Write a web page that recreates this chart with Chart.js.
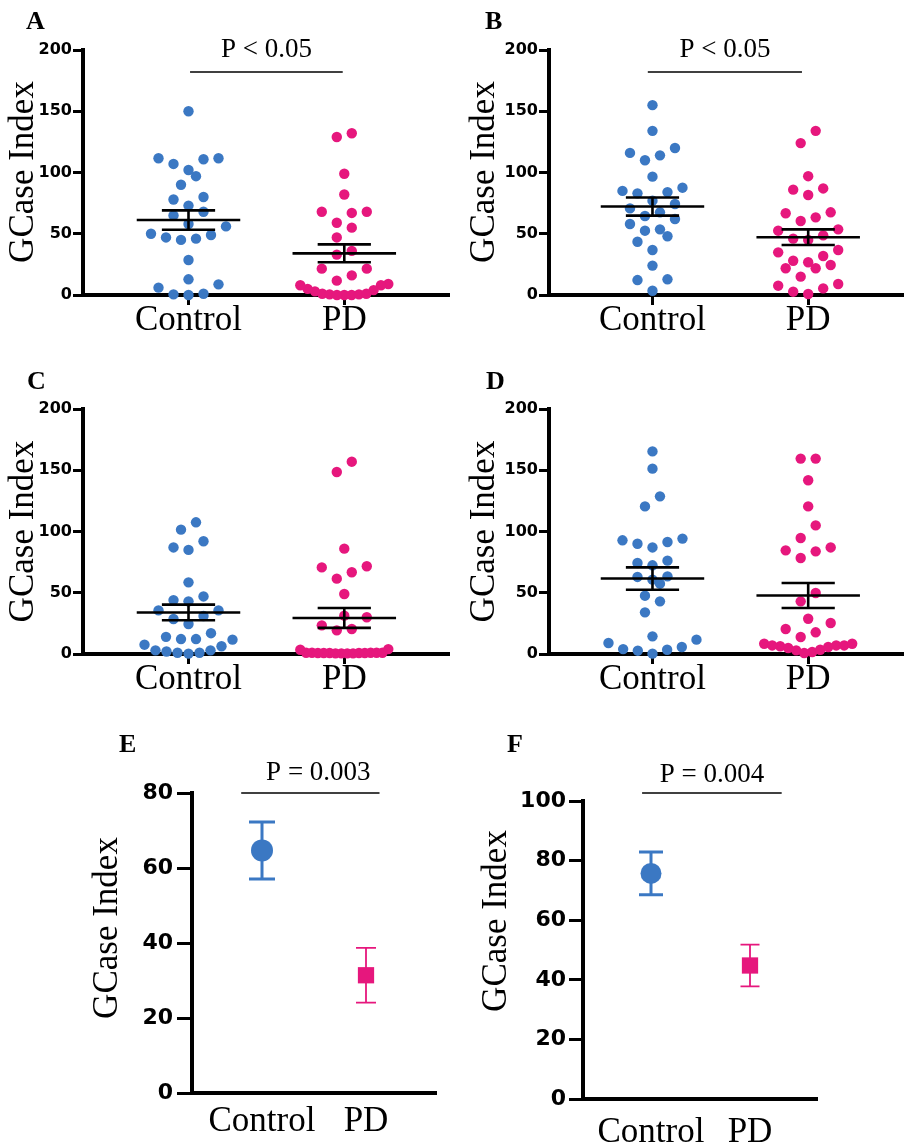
<!DOCTYPE html>
<html>
<head>
<meta charset="utf-8">
<script src="https://cdn.jsdelivr.net/npm/chart.js@4.4.1/dist/chart.umd.min.js"></script>
<style>
  body { margin: 0; background: #fff; }
  #fig { position: relative; width: 908px; height: 1144px; overflow: hidden; background: #fff; }
  #fig canvas { position: absolute; }
</style>
</head>
<body>
<div id="fig"></div>
<script>
// Groups and labels
const categories = ['Control', 'PD'];
const yTitle = 'GCase Index';
const panelLetters = ['A', 'B', 'C', 'D', 'E', 'F'];
const pLabels = ['P < 0.05', 'P < 0.05', null, null, 'P = 0.003', 'P = 0.004'];

// Individual values (panels A-D)
const controlA = [150, 111.6, 110.8, 111.6, 107, 102, 97, 90, 78, 80, 73, 68, 65, 58, 56, 49, 46, 45, 47, 50, 28.6, 12.8, 8.7, 6, 1, 0, 0.5];
const pdA = [132, 129, 99, 82, 68, 67, 68, 59, 55, 47, 36, 33, 21.5, 21.5, 16, 11.7, 9, 8, 4, 1, 0.5, 0, 0, 0, 0.5, 1, 3, 5, 8];
const controlB = [155, 134, 120, 116, 114, 110, 96.6, 87.6, 84, 83, 85, 77, 74.3, 70.7, 67.5, 64.5, 62, 58, 53.6, 52.5, 48, 43.5, 36.7, 24, 12.8, 12.2, 3.5];
const pdB = [134, 124, 97, 86, 81.6, 87, 66.7, 60.4, 63.4, 67.5, 52.5, 53.6, 46, 45, 48.7, 34.8, 28, 31.8, 36.7, 24.5, 21.8, 21.8, 26.7, 15, 9, 5.4, 7.6, 2.7, 0.8];
const controlC = [107.5, 101.5, 92, 87, 85, 58.5, 47, 44, 43, 35.6, 35.6, 31, 28.6, 24.5, 17, 14, 11.7, 12.2, 12.2, 6.3, 7.6, 3, 3, 1, 0.3, 1, 2];
const pdC = [157, 148.6, 86, 71.6, 70.7, 66.7, 61.5, 49, 30, 31.3, 23.4, 20.4, 19.3, 4, 3.5, 1, 0.8, 0.5, 0.8, 1, 0.5, 0.8, 1, 0.5, 0.8, 1, 0.5, 0.8, 1];
const controlD = [165.4, 151.3, 128.7, 120.5, 94.2, 92.8, 91.4, 90, 87, 76.2, 74.3, 72.4, 63.4, 62.9, 60.7, 57.4, 47.6, 43, 34, 14.4, 11.7, 9, 5.7, 4, 3.5, 2.7, 0.3];
const pdD = [159.5, 159.5, 141.8, 120.5, 105, 94.7, 84.6, 83.8, 87, 78.4, 49.8, 43, 28.8, 25.3, 20.4, 17.7, 13.9, 8.4, 7, 6.3, 4.9, 3, 1.6, 0.8, 3.5, 5.7, 7, 7, 8.4];

// Mean and SEM per group [Control, PD]
const meanA = [61.2, 34.0], semA = [7.9, 7.3];
const meanB = [72.2, 47.2], semB = [7.4, 6.4];
const meanC = [33.9, 29.4], semC = [6.4, 8.1];
const meanD = [61.6, 47.8], semD = [9.1, 10.2];
const meanE = [64.7, 31.4], semE = [7.6, 7.3];
const meanF = [75.7, 44.8], semF = [7.2, 7.0];

const colors = ['#3b78c3', '#e6177d'];
const serif = '"Liberation Serif", "Times New Roman", serif';

// Layout of the six panels (canvas px)
const panels = [
  { kind: 'dots', left: 0, top: 0, w: 454, h: 340, area: [83, 50, 454, 295], cat: [190, 348], yMax: 200, yStep: 50,
    values: [controlA, pdA], mean: meanA, sem: semA, letterXY: [26, 29], titleXY: [24, 172], pX: [1.01, 1.99], pY: 182, pGap: 15, pDx: 0 },
  { kind: 'dots', left: 454, top: 0, w: 454, h: 340, area: [95, 50, 454, 295], cat: [200, 358], yMax: 200, yStep: 50,
    values: [controlB, pdB], mean: meanB, sem: semB, letterXY: [31, 29], titleXY: [30.5, 172], pX: [0.97, 1.96], pY: 182, pGap: 15, pDx: 0 },
  { kind: 'dots', left: 0, top: 360, w: 454, h: 340, area: [83, 49, 454, 294], cat: [190, 348], yMax: 200, yStep: 50,
    values: [controlC, pdC], mean: meanC, sem: semC, letterXY: [27, 29], titleXY: [24, 171.5] },
  { kind: 'dots', left: 454, top: 360, w: 454, h: 340, area: [95, 49, 454, 294], cat: [200, 358], yMax: 200, yStep: 50,
    values: [controlD, pdD], mean: meanD, sem: semD, letterXY: [32, 29], titleXY: [30.5, 171.5] },
  { kind: 'summary', left: 0, top: 720, w: 454, h: 424, area: [192, 73, 435, 373], cat: [262, 366], yMax: 80, yStep: 20,
    mean: meanE, sem: semE, letterXY: [119, 32], titleXY: [108, 208], pX: [0.8, 2.13], pY: 80, pGap: 12.7, pDx: 8,
    tickLen: 15, tickPad: 4, labelPad: 13, dotR: 11, capPx: [13, 10] },
  { kind: 'summary', left: 454, top: 720, w: 454, h: 424, area: [129, 81, 362, 379], cat: [197, 296], yMax: 100, yStep: 20,
    mean: meanF, sem: semF, letterXY: [53, 32], titleXY: [43, 201], pX: [0.91, 2.32], pY: 102.7, pGap: 11, pDx: 0,
    tickLen: 14, tickPad: 3, labelPad: 18, dotR: 10.5, capPx: [12, 9.5] }
];

const fig = document.getElementById('fig');

function makeCanvas(p) {
  const c = document.createElement('canvas');
  c.width = p.w;
  c.height = p.h;
  c.style.left = p.left + 'px';
  c.style.top = p.top + 'px';
  c.style.width = p.w + 'px';
  c.style.height = p.h + 'px';
  fig.appendChild(c);
  return c;
}

// I-beam segments (with gaps) for mean +/- SEM
function beam(x, m, s, half, cap) {
  const pts = [];
  if (half) pts.push({ x: x - half, y: m }, { x: x + half, y: m }, { x, y: null });
  pts.push({ x: x - cap, y: m + s }, { x: x + cap, y: m + s }, { x, y: null },
           { x: x - cap, y: m - s }, { x: x + cap, y: m - s }, { x, y: null },
           { x, y: m - s }, { x, y: m + s });
  return pts;
}

// Prism-like column scatter: rows of close values, lowest in the middle
function swarmOffsets(vals, pxPerY) {
  const rowPx = 14, spacing = 15, maxWidth = 88;
  const idx = vals.map((v, i) => i).sort((a, b) => vals[a] - vals[b]);
  const off = new Array(vals.length).fill(0);
  let row = [];
  const flush = () => {
    const n = row.length;
    const s = n > 1 ? Math.min(spacing, maxWidth / (n - 1)) : 0;
    const slots = [];
    for (let k = 0; k < n; k++) slots.push((k - (n - 1) / 2) * s);
    slots.sort((a, b) => Math.abs(a) - Math.abs(b) || a - b);
    row.forEach((i, k) => { off[i] = slots[k]; });
    row = [];
  };
  idx.forEach(i => {
    if (row.length && (vals[i] - vals[row[0]]) * pxPerY >= rowPx) flush();
    row.push(i);
  });
  flush();
  return off;
}

function annotator(p, letter, pText) {
  return {
    id: 'annotate',
    afterDraw(chart) {
      const ctx = chart.ctx;
      ctx.save();
      ctx.fillStyle = '#000';
      ctx.font = 'bold 26px ' + serif;
      ctx.textAlign = 'left';
      ctx.textBaseline = 'alphabetic';
      ctx.fillText(letter, p.letterXY[0], p.letterXY[1]);

      ctx.save();
      ctx.translate(p.titleXY[0], p.titleXY[1]);
      ctx.rotate(-Math.PI / 2);
      ctx.font = '35px ' + serif;
      ctx.textAlign = 'center';
      ctx.textBaseline = 'middle';
      ctx.fillText(yTitle, 0, 0);
      ctx.restore();

      if (pText) {
        const xs = chart.scales.x, ys = chart.scales.y;
        const x0 = xs.getPixelForValue(p.pX[0]), x1 = xs.getPixelForValue(p.pX[1]);
        const py = ys.getPixelForValue(p.pY);
        ctx.strokeStyle = '#000';
        ctx.lineWidth = 1.5;
        ctx.beginPath();
        ctx.moveTo(x0, py);
        ctx.lineTo(x1, py);
        ctx.stroke();
        ctx.font = '27px ' + serif;
        ctx.textAlign = 'center';
        ctx.textBaseline = 'alphabetic';
        ctx.fillText(pText, (x0 + x1) / 2 + (p.pDx || 0), py - p.pGap);
      }
      ctx.restore();
    }
  };
}

function buildChart(p, n) {
  const canvas = makeCanvas(p);
  const [l, t, r, b] = p.area;
  const unit = p.cat[1] - p.cat[0];
  const xMin = 1 - (p.cat[0] - l) / unit;
  const xMax = 2 + (r - p.cat[1]) / unit;
  const big = p.kind === 'summary';
  const datasets = [];

  if (!big) {
    p.values.forEach((vals, g) => datasets.push({
      data: vals.map(v => ({ x: g + 1, y: v })),
      backgroundColor: colors[g], pointRadius: 5.2, pointBorderWidth: 0,
      order: 1, clip: false
    }));
    const bars = [];
    p.mean.forEach((m, g) => bars.push(...beam(g + 1, m, p.sem[g], 52.5 / unit, 27 / unit), { x: g + 1, y: null }));
    datasets.push({
      data: bars, showLine: true, spanGaps: false, borderColor: '#000', borderWidth: 2.6,
      pointRadius: 0, order: 0, clip: false
    });
  } else {
    p.mean.forEach((m, g) => {
      datasets.push({
        data: beam(g + 1, m, p.sem[g], 0, p.capPx[g] / unit), showLine: true, spanGaps: false,
        borderColor: colors[g], borderWidth: g === 0 ? 3 : 1.8, pointRadius: 0, order: 1, clip: false
      });
      datasets.push({
        data: [{ x: g + 1, y: m }],
        pointStyle: g === 0 ? 'circle' : 'rect',
        pointRadius: g === 0 ? p.dotR : 11.5,
        backgroundColor: colors[g], pointBorderWidth: 0, order: 0, clip: false
      });
    });
  }

  return new Chart(canvas, {
    type: 'scatter',
    data: { datasets },
    options: {
      responsive: false,
      animation: false,
      events: [],
      layout: { padding: { left: 0, top: t, right: p.w - r, bottom: 0 } },
      plugins: { legend: { display: false }, tooltip: { enabled: false } },
      scales: {
        x: {
          type: 'linear', min: xMin, max: xMax,
          afterFit: s => { s.height = p.h - b; },
          afterBuildTicks: s => { s.ticks = [{ value: 1 }, { value: 2 }]; },
          ticks: {
            callback: v => categories[v - 1],
            font: { family: serif, size: 35, lineHeight: 0.9 },
            color: '#000', padding: big ? p.labelPad : 0,
            maxRotation: 0, minRotation: 0, autoSkip: false
          },
          grid: { drawOnChartArea: false, drawTicks: !big, tickLength: 10, color: '#000', lineWidth: 3 },
          border: { color: '#000', width: 4 }
        },
        y: {
          min: 0, max: p.yMax,
          afterFit: s => { s.width = l; },
          ticks: {
            stepSize: p.yStep,
            font: { family: '"DejaVu Sans", sans-serif', weight: 'bold', size: big ? 22 : 16 },
            color: '#000', padding: big ? p.tickPad : 1
          },
          grid: { drawOnChartArea: false, tickLength: big ? p.tickLen : 10, color: '#000', lineWidth: 3 },
          border: { color: '#000', width: 4 }
        }
      }
    },
    plugins: [annotator(p, panelLetters[n], pLabels[n])]
  });
}

panels.forEach((p, n) => {
  const chart = buildChart(p, n);
  if (p.kind !== 'dots') return;
  const xs = chart.scales.x, ys = chart.scales.y;
  const pxPerX = xs.getPixelForValue(2) - xs.getPixelForValue(1);
  const pxPerY = ys.getPixelForValue(0) - ys.getPixelForValue(1);
  p.values.forEach((vals, g) => {
    const off = swarmOffsets(vals, pxPerY);
    chart.data.datasets[g].data = vals.map((v, i) => ({ x: g + 1 + off[i] / pxPerX, y: v }));
  });
  chart.update('none');
});
</script>
</body>
</html>
